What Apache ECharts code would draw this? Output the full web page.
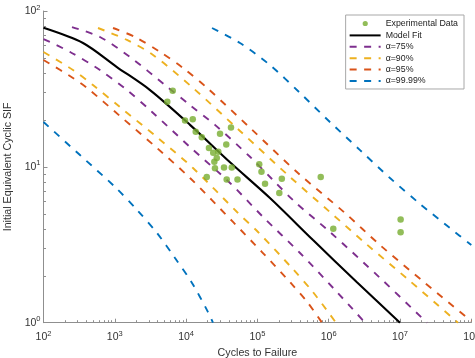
<!DOCTYPE html>
<html><head><meta charset="utf-8">
<script src="https://cdn.jsdelivr.net/npm/echarts@6/dist/echarts.min.js"></script>
<style>html,body{margin:0;padding:0;background:#fff}#c{width:475px;height:358px}</style>
</head><body><div id="c"></div>
<script>
// ---------- data ----------
const xTickValues = [1e2, 1e3, 1e4, 1e5, 1e6, 1e7, 1e8];
const yTickValues = [1, 10, 100];

const expCycles = [6490, 5450, 9660, 12400, 13650, 16600, 29900, 42600, 20900, 36600, 24000, 28300, 26900, 24900, 25400, 34000, 43700, 19500, 37100, 52600, 106000, 114000, 220000, 128000, 203000, 773000, 1160000, 10200000, 10200000];
const expSIF    = [30.8, 26.2, 19.8, 20.2, 16.8, 15.5, 16.3, 17.9, 13.2, 13.9, 12.3, 12.5, 11.4, 10.8, 9.8, 9.9, 9.9, 8.6, 8.3, 8.3, 10.4, 9.3, 8.4, 7.8, 6.8, 8.6, 4.0, 4.6, 3.8];

const fitCycles = [100, 358, 1070, 3120, 11350, 41300, 150000, 603000, 2490000, 10000000];
const fitSIF    = [78, 62.3, 43.7, 31.1, 18.6, 10.7, 6.31, 3.39, 1.82, 1.0];

const a75LoCycles = [100, 236, 619, 1480, 3330, 11350, 41300, 120000, 396000, 1230000, 3240000];
const a75LoSIF    = [66.1, 54.6, 41.8, 31.1, 22.5, 13.4, 7.88, 4.77, 2.80, 1.62, 1.0];
const a75HiCycles = [251, 619, 1630, 5060, 11350, 25400, 78700, 160000, 337000, 1040000, 5240000, 23900000];
const a75HiSIF    = [78.9, 68.1, 50.7, 33.5, 24.9, 18.6, 11.6, 8.36, 5.95, 3.82, 1.94, 1.0];

const a90LoCycles = [100, 259, 494, 1180, 4040, 12500, 51800, 102000, 306000, 603000, 1265000];
const a90LoSIF    = [54.6, 41.8, 33.5, 24.2, 15.3, 9.83, 5.13, 3.82, 2.24, 1.57, 1.0];
const a90HiCycles = [581, 1480, 3440, 12100, 57000, 287000, 1040000, 3230000, 13800000, 65000000];
const a90HiSIF    = [77.8, 65.2, 52.2, 32.5, 17.0, 8.61, 5.13, 3.25, 1.85, 1.0];

const a95LoCycles = [100, 259, 408, 1180, 3910, 11350, 45500, 116000, 287000, 512000, 805000];
const a95LoSIF    = [48.5, 37.2, 32.1, 21.2, 13.2, 8.48, 4.43, 2.84, 1.82, 1.34, 1.0];
const a95HiCycles = [944, 1920, 4310, 9060, 19700, 78700, 371000, 1690000, 5240000, 22400000, 100000000];
const a95HiSIF    = [77.8, 68.1, 54.6, 43.1, 32.1, 17.8, 9.13, 5.06, 3.15, 1.80, 1.025];

const a9999LoCycles = [100, 325, 1010, 2050, 3910, 6990, 12100, 20300, 23800];
const a9999LoSIF    = [19.4, 11.9, 7.42, 5.29, 3.76, 2.60, 1.80, 1.17, 1.0];
const a9999HiCycles = [23100, 57000, 150000, 396000, 1040000, 2750000, 7240000, 19100000, 50200000, 100000000];
const a9999HiSIF    = [77.8, 62.3, 45.0, 29.8, 19.4, 12.8, 8.48, 5.78, 4.05, 3.15];

const legendNames = ['Experimental Data', 'Model Fit', 'α=75%', 'α=90%', 'α=95%', 'α=99.99%'];
const xTitle = 'Cycles to Failure';
const yTitle = 'Initial Equivalent Cyclic SIF';

// ---------- build ----------
const FONT = "'Liberation Sans', Arial, Helvetica, sans-serif";
const AX = '#8f8f8f';
const zip = (a, b) => a.map((v, i) => [v, b[i]]);
const minorTicks = (lo, hi) => { const r = []; for (let d = lo; d < hi; d++) for (let k = 2; k <= 9; k++) r.push(k * Math.pow(10, d)); return r; };
const supLabel = v => '{b|10}{s|' + Math.round(Math.log10(v)) + '}';
const rich = {
  b: { fontSize: 10.5, color: '#333', fontFamily: FONT },
  s: { fontSize: 7.5, color: '#333', fontFamily: FONT, padding: [0, 0, 7, 0] }
};

const C = { purple: '#7E2F8E', yellow: '#EDB120', orange: '#D95319', blue: '#0072BD', green: '#77AC30' };
const dashed = (name, color, xs, ys) => ({
  type: 'line', name, data: zip(xs, ys), symbol: 'none', smooth: 0.3,
  lineStyle: { color, width: 1.9, type: [7, 7.5] }, itemStyle: { color }, z: 2
});

const chart = echarts.init(document.getElementById('c'), null, { renderer: 'canvas' });
chart.setOption({
  animation: false,
  backgroundColor: '#fff',
  grid: { left: 43.5, right: 3.7, top: 11, bottom: 35.3, containLabel: false, outerBoundsMode: 'none' },
  xAxis: [
    { type: 'log', logBase: 10, min: 100, max: 1e8, position: 'bottom',
      axisLine: { show: true, lineStyle: { color: AX, width: 1 } },
      axisTick: { show: true, inside: true, length: 4, customValues: xTickValues, lineStyle: { color: AX } },
      axisLabel: { customValues: xTickValues, formatter: supLabel, rich, margin: 7, showMinLabel: true, showMaxLabel: true },
      splitLine: { show: false }, minorTick: { show: false },
      name: xTitle, nameLocation: 'middle', nameGap: 20.5,
      nameTextStyle: { fontSize: 10.7, color: '#333', fontFamily: FONT } },
    { type: 'log', logBase: 10, min: 100, max: 1e8, position: 'bottom',
      axisLine: { show: false },
      axisTick: { show: true, inside: true, length: 2.5, customValues: minorTicks(2, 8), lineStyle: { color: AX } },
      axisLabel: { show: false }, splitLine: { show: false } }
  ],
  yAxis: [
    { type: 'log', logBase: 10, min: 1, max: 100, position: 'left',
      axisLine: { show: true, lineStyle: { color: AX, width: 1 } },
      axisTick: { show: true, inside: true, length: 4, customValues: yTickValues, lineStyle: { color: AX } },
      axisLabel: { customValues: yTickValues, formatter: supLabel, rich, margin: 3, showMinLabel: true, showMaxLabel: true },
      splitLine: { show: false },
      name: yTitle, nameLocation: 'middle', nameGap: 25, nameRotate: 90,
      nameTextStyle: { fontSize: 10.7, color: '#333', fontFamily: FONT } },
    { type: 'log', logBase: 10, min: 1, max: 100, position: 'left',
      axisLine: { show: false },
      axisTick: { show: true, inside: true, length: 2.5, customValues: minorTicks(0, 2), lineStyle: { color: AX } },
      axisLabel: { show: false }, splitLine: { show: false } }
  ],
  legend: {
    orient: 'vertical', right: 11, top: 15,
    itemWidth: 31, itemHeight: 10, itemGap: 2.4,
    padding: [3.5, 6, 3.5, 3],
    borderColor: '#a8a8a8', borderWidth: 1, backgroundColor: '#fff',
    selectedMode: false,
    textStyle: { fontSize: 8.8, color: '#222', fontFamily: FONT },
    data: [
      { name: legendNames[0], icon: 'path://M0,0L0.01,0M31,10L31.01,10M13,5A2.6,2.6,0,1,1,18.2,5A2.6,2.6,0,1,1,13,5Z', itemStyle: { borderWidth: 0 } },
      { name: legendNames[1], itemStyle: { opacity: 0 } },
      { name: legendNames[2], itemStyle: { opacity: 0 } },
      { name: legendNames[3], itemStyle: { opacity: 0 } },
      { name: legendNames[4], itemStyle: { opacity: 0 } },
      { name: legendNames[5], itemStyle: { opacity: 0 } }
    ]
  },
  series: [
    dashed(legendNames[2], C.purple, a75LoCycles, a75LoSIF),
    dashed(legendNames[2], C.purple, a75HiCycles, a75HiSIF),
    dashed(legendNames[3], C.yellow, a90LoCycles, a90LoSIF),
    dashed(legendNames[3], C.yellow, a90HiCycles, a90HiSIF),
    dashed(legendNames[4], C.orange, a95LoCycles, a95LoSIF),
    dashed(legendNames[4], C.orange, a95HiCycles, a95HiSIF),
    dashed(legendNames[5], C.blue, a9999LoCycles, a9999LoSIF),
    dashed(legendNames[5], C.blue, a9999HiCycles, a9999HiSIF),
    { type: 'line', name: legendNames[1], data: zip(fitCycles, fitSIF), symbol: 'none', smooth: 0.3,
      lineStyle: { color: '#000', width: 2.1 }, itemStyle: { color: '#000' }, z: 3 },
    { type: 'scatter', name: legendNames[0], data: zip(expCycles, expSIF), symbol: 'circle', symbolSize: 6.5,
      itemStyle: { color: C.green }, z: 4 }
  ]
});
</script></body></html>
